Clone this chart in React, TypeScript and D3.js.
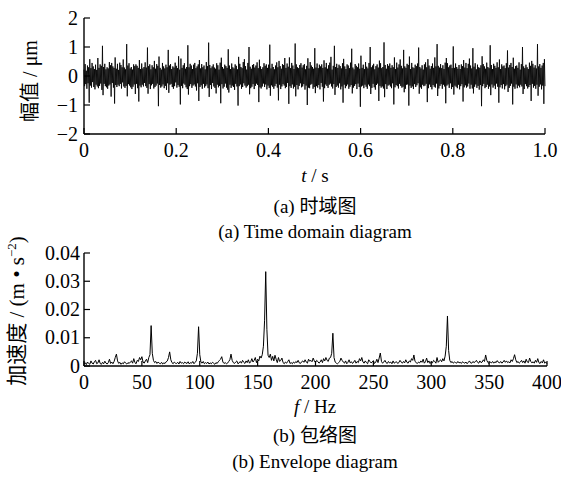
import React from "react";
import * as d3 from "d3";

const timeTicks = [0, 0.2, 0.4, 0.6, 0.8, 1.0];
const timeTickLabels = ["0", "0.2", "0.4", "0.6", "0.8", "1.0"];
const ampTicks = [-2, -1, 0, 1, 2];
const ampTickLabels = ["\u22122", "\u22121", "0", "1", "2"];
const freqTicks = [0, 50, 100, 150, 200, 250, 300, 350, 400];
const accTicks = [0, 0.01, 0.02, 0.03, 0.04];
const accTickLabels = ["0", "0.01", "0.02", "0.03", "0.04"];

// time-domain signal, in 0.01 μm, equally spaced over 0..1 s
const signalCenti = [
  22,-35,41,-28,18,-44,36,-25,30,-92,
  58,-33,27,-40,45,-21,33,-38,24,-46,
  39,-30,21,-36,62,-42,28,-34,40,-26,
  35,-48,104,-66,31,-27,42,-35,23,-39,
  30,-44,26,-33,48,-29,37,-71,45,-24,
  33,-40,28,-95,64,-31,25,-38,42,-30,
  21,-35,46,-27,38,-43,30,-22,57,-36,
  29,-41,23,-34,110,-70,36,-28,44,-33,
  26,-39,31,-45,22,-37,40,-29,34,-62,
  40,-27,35,-42,28,-88,55,-33,24,-39,
  43,-30,26,-36,31,-24,47,-35,29,-41,
  98,-61,34,-28,40,-45,23,-32,37,-27,
  30,-43,52,-38,25,-33,41,-26,35,-104,
  67,-31,28,-40,22,-36,45,-29,33,-42,
  26,-34,39,-48,30,-25,90,-58,36,-30,
  41,-27,24,-38,33,-44,29,-35,46,-22,
  35,-40,27,-31,68,-37,22,-98,60,-34,
  28,-42,37,-26,44,-30,25,-39,31,-45,
  106,-64,30,-35,42,-28,36,-41,24,-33,
  39,-29,45,-36,27,-50,33,-25,40,-86,
  55,-38,26,-32,41,-44,30,-27,36,-40,
  23,-35,48,-29,34,-42,115,-72,38,-31,
  27,-45,33,-24,40,-36,29,-41,25,-60,
  44,-30,37,-39,22,-34,46,-94,63,-28,
  31,-43,25,-37,39,-26,34,-40,28,-47,
  92,-57,36,-30,24,-41,43,-33,30,-38,
  26,-48,40,-27,35,-36,23,-102,66,-35,
  42,-29,31,-44,27,-38,48,-25,58,-33,
  34,-40,22,-35,45,-30,100,-63,32,-42,
  25,-37,38,-28,41,-45,29,-34,36,-26,
  47,-31,27,-90,56,-39,33,-43,24,-36,
  30,-26,44,-38,35,-29,40,-46,28,-33,
  39,-41,108,-68,26,-32,42,-37,31,-44,
  23,-35,36,-27,47,-40,30,-84,52,-30,
  34,-45,25,-36,41,-28,38,-33,62,-42,
  28,-38,43,-24,32,-96,64,-35,27,-41,
  45,-29,36,-43,24,-37,112,-70,40,-31,
  30,-46,27,-34,38,-25,44,-39,29,-36,
  37,-28,41,-47,23,-33,35,-100,61,-40,
  26,-42,48,-30,36,-27,31,-44,25,-38,
  96,-59,29,-35,43,-40,27,-31,39,-46,
  33,-24,40,-37,28,-88,54,-42,30,-29,
  45,-34,25,-41,37,-30,46,-26,66,-36,
  22,-43,35,-28,104,-65,31,-38,42,-33,
  28,-40,39,-25,34,-46,26,-36,44,-92,
  59,-30,33,-42,24,-35,40,-29,36,-44,
  27,-37,46,-31,94,-60,29,-40,23,-34,
  41,-28,35,-45,30,-26,43,-38,25,-106,
  70,-36,28,-33,39,-42,24,-30,48,-37,
  32,-44,26,-29,45,-35,100,-62,30,-41,
  36,-27,42,-39,23,-47,34,-31,40,-26,
  29,-86,53,-34,44,-40,27,-36,31,-43,
  116,-73,38,-28,25,-45,41,-33,35,-30,
  43,-36,28,-42,37,-25,30,-98,64,-39,
  24,-31,46,-35,29,-43,40,-27,57,-34,
  35,-40,26,-37,90,-56,33,-44,28,-30,
  42,-29,38,-102,67,-33,24,-41,45,-36,
  30,-45,27,-28,39,-38,34,-32,43,-25,
  98,-61,31,-39,26,-44,37,-30,22,-35,
  40,-33,47,-27,30,-90,58,-42,36,-29,
  25,-38,34,-46,43,-31,28,-37,64,-40,
  33,-26,110,-69,35,-43,29,-34,41,-28,
  27,-44,37,-30,24,-36,46,-94,62,-33,
  44,-29,30,-41,36,-25,39,-45,27,-38,
  102,-64,28,-33,43,-37,31,-42,25,-30,
  38,-46,24,-35,40,-28,34,-88,55,-39,
  29,-32,45,-40,27,-36,42,-26,60,-44,
  36,-30,26,-43,96,-60,32,-37,44,-29,
  23,-41,39,-34,30,-47,28,-31,37,-104,
  68,-35,41,-27,33,-42,25,-38,46,-30,
  31,-44,27,-36,106,-66,38,-29,24,-40,
  42,-33,35,-45,28,-26,47,-37,30,-92,
  57,-39,24,-31,40,-43,33,-28,36,-46,
  27,-35,44,-30,88,-55,29,-41,38,-34,
  45,-26,31,-98,63,-37,25,-44,34,-29,
  36,-42,28,-33,47,-39,22,-30,41,-36,
  100,-62,33,-45,27,-28,39,-35,30,-43,
  24,-38,46,-31,35,-86,52,-27,42,-40,
  29,-34,37,-44,26,-30,110,-68,33,-37,
  41,-29,28,-46,36,-33,45,-96,58,-35,
];

// envelope spectrum, in 1e-4 m/s², at 1 Hz steps 0..400 Hz
const envelopeE4 = [
  8,12,5,14,9,6,18,10,7,15,20,8,11,22,9,6,13,8,17,10,
  7,12,24,9,14,8,16,30,42,18,9,13,6,11,8,15,10,7,12,9,
  14,18,10,26,12,8,20,16,30,22,33,14,10,18,24,12,30,40,143,45,
  20,12,16,9,14,10,8,13,7,11,9,15,18,30,50,22,12,8,14,10,
  9,13,7,16,10,12,8,14,11,9,15,7,12,10,16,8,13,18,45,139,
  40,14,10,16,8,12,9,14,7,11,8,13,10,6,12,9,15,20,24,33,
  14,9,12,8,10,16,22,42,20,12,9,14,18,8,11,16,10,20,13,9,
  18,12,22,10,15,26,14,20,30,12,24,18,35,28,40,70,160,334,130,38,
  30,42,20,34,18,38,24,12,30,16,20,28,12,8,14,10,16,22,9,12,
  8,14,10,16,12,20,11,9,15,18,13,22,14,10,24,17,20,15,28,18,
  12,20,16,10,14,22,12,26,18,30,20,16,28,30,45,116,30,14,10,8,
  12,16,28,20,14,10,18,8,13,22,11,15,9,14,20,10,16,12,26,18,
  30,14,10,18,12,8,22,16,11,14,19,9,13,24,12,28,46,16,10,14,
  20,12,9,16,11,14,8,18,10,13,15,9,12,20,14,10,16,11,22,13,
  10,18,14,26,20,39,16,12,9,14,11,18,13,24,10,15,28,12,18,9,
  14,11,20,16,10,30,13,18,22,15,26,18,35,70,177,55,20,12,16,10,
  14,12,10,16,11,13,9,15,12,10,14,8,13,18,11,10,16,12,15,20,
  13,10,18,12,14,22,16,39,20,12,9,14,11,16,10,15,12,19,13,11,
  16,10,14,20,13,18,12,15,11,22,16,26,40,22,12,16,10,14,20,12,
  18,10,24,14,12,28,16,11,15,10,20,13,26,12,9,16,11,22,10,14,
  8,
];

const FONT = "'Liberation Serif', 'Times New Roman', 'Noto Sans CJK SC', serif";

export default function App() {
  // top panel
  const xT = d3.scaleLinear().domain([0, 1]).range([84, 545]);
  const yT = d3.scaleLinear().domain([-2, 2]).range([134, 18]);
  const nS = signalCenti.length;
  const sigLine = d3
    .line<number>()
    .x((_, i) => xT(i / (nS - 1)))
    .y((d) => yT(d / 100));

  // bottom panel
  const xB = d3.scaleLinear().domain([0, 400]).range([84, 547]);
  const yB = d3.scaleLinear().domain([0, 0.04]).range([366, 253]);
  const envLine = d3
    .line<number>()
    .x((_, i) => xB(i))
    .y((d) => yB(d / 10000));

  const fs = 19;

  return (
    <svg
      width={561}
      height={478}
      viewBox="0 0 561 478"
      style={{ position: "absolute", left: 0, top: 0, display: "block", background: "#fff" }}
      fontFamily={FONT}
    >
      <rect x={0} y={0} width={561} height={478} fill="#fff" />
      {/* ---------- top panel ---------- */}
      <path d={sigLine(signalCenti) || ""} fill="none" stroke="#000" strokeWidth={0.85} />
      <line x1={84} x2={84} y1={yT(2)} y2={yT(-2)} stroke="#000" strokeWidth={1.4} />
      <line x1={84} x2={xT(1)} y1={yT(-2)} y2={yT(-2)} stroke="#000" strokeWidth={1.6} />
      {ampTicks.map((t, i) => (
        <g key={"ya" + i}>
          <line x1={84} x2={90} y1={yT(t)} y2={yT(t)} stroke="#000" strokeWidth={1.2} />
          <text x={78} y={yT(t) + 6.5} textAnchor="end" fontSize={fs + 1}>
            {ampTickLabels[i]}
          </text>
        </g>
      ))}
      {timeTicks.map((t, i) => (
        <g key={"xt" + i}>
          <line x1={xT(t)} x2={xT(t)} y1={yT(-2)} y2={yT(-2) - 6} stroke="#000" strokeWidth={1.2} />
          <text x={xT(t)} y={157} textAnchor="middle" fontSize={fs + 1}>
            {timeTickLabels[i]}
          </text>
        </g>
      ))}
      <text x={315} y={182} textAnchor="middle" fontSize={fs}>
        <tspan fontStyle="italic">t</tspan> / s
      </text>
      <text
        transform={`translate(37,81) rotate(-90)`}
        textAnchor="middle"
        fontSize={fs + 1}
      >
        幅值 / μm
      </text>
      <text x={315} y={213} textAnchor="middle" fontSize={fs}>
        (a) 时域图
      </text>
      <text x={315} y={238} textAnchor="middle" fontSize={fs}>
        (a) Time domain diagram
      </text>

      {/* ---------- bottom panel ---------- */}
      <path d={envLine(envelopeE4) || ""} fill="none" stroke="#000" strokeWidth={1} />
      <line x1={84} x2={84} y1={yB(0.04)} y2={yB(0)} stroke="#000" strokeWidth={1.4} />
      <line x1={84} x2={xB(400)} y1={yB(0)} y2={yB(0)} stroke="#000" strokeWidth={1.6} />
      {accTicks.map((t, i) => (
        <g key={"yb" + i}>
          <line x1={84} x2={90} y1={yB(t)} y2={yB(t)} stroke="#000" strokeWidth={1.2} />
          <text x={80} y={yB(t) + 6.5} textAnchor="end" fontSize={fs + 1}>
            {accTickLabels[i]}
          </text>
        </g>
      ))}
      {freqTicks.map((t, i) => (
        <g key={"xf" + i}>
          <line x1={xB(t)} x2={xB(t)} y1={yB(0)} y2={yB(0) - 5} stroke="#000" strokeWidth={1.2} />
          <text x={xB(t)} y={389} textAnchor="middle" fontSize={fs + 1}>
            {String(t)}
          </text>
        </g>
      ))}
      <text x={315} y={413} textAnchor="middle" fontSize={fs}>
        <tspan fontStyle="italic">f</tspan> / Hz
      </text>
      <text
        transform={`translate(24,311) rotate(-90)`}
        textAnchor="middle"
        fontSize={21}
      >
        加速度 / (m • s<tspan fontSize={13} dy={-8}>−2</tspan><tspan dy={8}>)</tspan>
      </text>
      <text x={315} y={442} textAnchor="middle" fontSize={fs}>
        (b) 包络图
      </text>
      <text x={315} y={468} textAnchor="middle" fontSize={fs}>
        (b) Envelope diagram
      </text>
    </svg>
  );
}
